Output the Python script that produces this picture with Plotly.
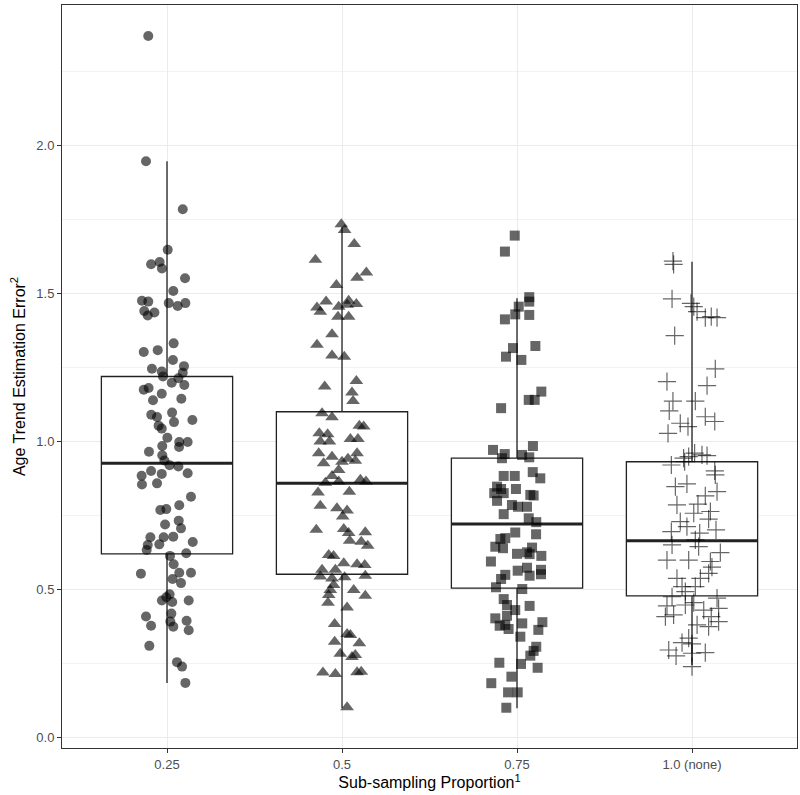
import plotly.graph_objects as go

# ---- categories / tick labels ----
categories = ["0.25", "0.5", "0.75", "1.0 (none)"]
cat_pos = [1, 2, 3, 4]

# ---- box statistics ----
box_q1 = [0.621, 0.552, 0.505, 0.479]
box_median = [0.927, 0.859, 0.722, 0.665]
box_q3 = [1.220, 1.101, 0.944, 0.932]
box_lower = [0.185, 0.100, 0.099, 0.245]
box_upper = [1.947, 1.725, 1.484, 1.608]

# ---- jittered points: (horizontal jitter in category units, value) ----
g1_jitter = [-0.107, -0.120, 0.090, 0.004, -0.091, -0.042, -0.029, 0.103,
             0.036, -0.143, -0.107, 0.010, 0.061, 0.105, -0.130, -0.072, -0.110,
             0.038, -0.133, -0.053, 0.034, -0.086, 0.097, -0.030, 0.090, -0.023,
             0.027, 0.065, 0.099, -0.133, -0.105, -0.030, -0.080, 0.082, -0.090,
             -0.057, 0.029, 0.145, 0.040, -0.048, -0.030, 0.002, -0.027, 0.070,
             0.118, 0.069, -0.103, -0.027, -0.015, 0.015, 0.065, -0.091, -0.030,
             0.118, -0.145, -0.143, -0.057, 0.137, 0.070, -0.038, -0.004, 0.067,
             -0.011, 0.080, -0.095, -0.019, 0.036, -0.110, -0.044, 0.147, -0.116,
             0.017, 0.110, 0.038, -0.149, 0.070, 0.137, 0.032, 0.080, 0.015,
             -0.004, -0.029, 0.030, 0.124, -0.120, 0.025, -0.091, 0.019, 0.036,
             0.112, 0.124, -0.101, 0.057, 0.086, 0.105]
g1_values = [2.370, 1.947, 1.785, 1.648, 1.599, 1.607, 1.585, 1.552,
             1.509, 1.476, 1.473, 1.468, 1.458, 1.468, 1.441, 1.436, 1.426,
             1.332, 1.303, 1.309, 1.276, 1.246, 1.255, 1.237, 1.233, 1.220,
             1.199, 1.214, 1.191, 1.175, 1.181, 1.162, 1.140, 1.145, 1.091,
             1.083, 1.098, 1.073, 1.066, 1.054, 1.044, 1.013, 0.985, 0.999,
             0.999, 0.982, 0.966, 0.954, 0.936, 0.920, 0.916, 0.901, 0.891,
             0.893, 0.885, 0.855, 0.859, 0.814, 0.785, 0.769, 0.772, 0.733,
             0.720, 0.707, 0.677, 0.677, 0.679, 0.651, 0.653, 0.661, 0.634,
             0.614, 0.623, 0.586, 0.554, 0.557, 0.557, 0.536, 0.522, 0.484,
             0.474, 0.463, 0.458, 0.463, 0.409, 0.419, 0.378, 0.392, 0.375,
             0.395, 0.363, 0.310, 0.255, 0.240, 0.185]

g2_jitter = [-0.004, 0.015, 0.070, -0.152, 0.139, 0.086, -0.032, -0.091, 0.038,
             0.082, -0.143, -0.124, -0.019, 0.030, -0.023, 0.038, -0.057, -0.143,
             -0.057, 0.013, -0.099, 0.082, 0.057, 0.063, -0.114, -0.057, 0.099,
             0.124, -0.130, -0.082, -0.124, -0.072, 0.048, 0.091, -0.133, -0.057,
             0.000, 0.034, 0.086, 0.076, -0.105, -0.019,
             -0.057, -0.095, -0.019, 0.105, 0.137, -0.137, 0.042, -0.124, -0.029,
             0.029, 0.004, -0.147, 0.010, 0.038, 0.133, 0.044, 0.110, 0.147,
             -0.076, -0.048, 0.010, 0.086, 0.130, -0.114, -0.038, -0.124, -0.057,
             0.015, 0.133, -0.048, -0.067, 0.067, -0.076, 0.133, -0.080, 0.029,
             -0.042, 0.029, 0.048, -0.042, 0.099, -0.010, 0.057, 0.076, -0.109,
             -0.038, 0.086, 0.110, 0.029]
g2_values = [1.734, 1.715, 1.668, 1.614, 1.571, 1.554, 1.529, 1.473, 1.476,
             1.465, 1.453, 1.439, 1.456, 1.462, 1.422, 1.422, 1.363, 1.327,
             1.291, 1.287, 1.186, 1.205, 1.166, 1.137, 1.096, 1.082, 1.054,
             1.051, 1.028, 1.025, 1.000, 1.000, 1.009, 1.009, 0.961, 0.949,
             0.932, 0.942, 0.961, 0.935, 0.927, 0.904,
             0.884, 0.861, 0.865, 0.871, 0.865, 0.828, 0.831, 0.783, 0.775,
             0.767, 0.747, 0.702, 0.705, 0.691, 0.694, 0.665, 0.662, 0.648,
             0.617, 0.614, 0.589, 0.586, 0.583, 0.567, 0.567, 0.544, 0.538,
             0.542, 0.547, 0.516, 0.499, 0.499, 0.482, 0.479, 0.456, 0.440,
             0.384, 0.350, 0.347, 0.324, 0.319, 0.283, 0.272, 0.279, 0.220,
             0.215, 0.221, 0.223, 0.103]

g3_jitter = [-0.013, -0.069, 0.070, 0.070, 0.010, -0.010, 0.070, -0.069, -0.023,
             0.105, -0.063, 0.025, 0.139, 0.067, 0.101, -0.091, 0.091, -0.137,
             -0.070, -0.086, 0.029, 0.070, -0.076, -0.013, 0.090, 0.133,
             -0.114, -0.091, -0.006, -0.130, -0.076, 0.076, 0.095, -0.114, -0.029,
             0.006, 0.057, -0.076, 0.067, 0.110, -0.010, 0.109, -0.095, -0.067,
             -0.124, -0.080, 0.086, 0.000, 0.057, 0.072, 0.139, -0.149, 0.057,
             0.004, 0.137, 0.072, 0.137, -0.067, -0.091, -0.120, 0.030, -0.076,
             -0.057, -0.010, 0.072, -0.057, -0.124, -0.099, -0.067, -0.048, 0.030,
             0.145, 0.122, 0.019, 0.110, 0.095, 0.076, -0.101, 0.023, 0.118,
             -0.032, -0.147, -0.051, 0.004, -0.061]
g3_values = [1.696, 1.642, 1.488, 1.473, 1.456, 1.430, 1.428, 1.413, 1.316,
             1.323, 1.287, 1.276, 1.169, 1.141, 1.141, 1.113, 0.985, 0.972,
             0.958, 0.944, 0.955, 0.947, 0.884, 0.884, 0.897, 0.876,
             0.848, 0.840, 0.840, 0.826, 0.826, 0.820, 0.818, 0.800, 0.786,
             0.780, 0.780, 0.755, 0.741, 0.728, 0.693, 0.687, 0.671, 0.674,
             0.645, 0.640, 0.642, 0.621, 0.626, 0.620, 0.614, 0.595, 0.574,
             0.564, 0.567, 0.547, 0.552, 0.550, 0.536, 0.508, 0.502, 0.468,
             0.448, 0.431, 0.445, 0.412, 0.403, 0.378, 0.381, 0.367, 0.386,
             0.390, 0.364, 0.341, 0.307, 0.293, 0.277, 0.253, 0.249, 0.236,
             0.206, 0.184, 0.153, 0.153, 0.101]

g4_jitter = [-0.109, -0.105, -0.114, -0.006, 0.010, 0.029, 0.076, 0.110, 0.143,
             -0.099, 0.133, -0.143, 0.086, -0.109, 0.019, -0.130, 0.076, 0.130,
             -0.067, -0.023, -0.137, 0.015, -0.019, 0.057, 0.086, -0.048, -0.118,
             -0.042, 0.130, 0.133,
             -0.095, -0.029, 0.143, 0.076, -0.086, 0.034, 0.105, 0.010, -0.067,
             0.095, -0.029, -0.118, 0.137, 0.044, 0.019, -0.114, 0.038, 0.162,
             -0.143, -0.019, 0.105, 0.114, -0.086, 0.095, 0.048, -0.057, 0.019,
             -0.038, -0.114, 0.143, 0.010, -0.143, -0.038, 0.067, 0.152, -0.105,
             0.110, -0.152, 0.029, 0.152, 0.095, -0.019, -0.057, 0.000, -0.133,
             0.076, -0.091, 0.000, 0.000]
g4_values = [1.610, 1.599, 1.482, 1.467, 1.456, 1.439, 1.419, 1.422, 1.419,
             1.358, 1.246, 1.203, 1.189, 1.137, 1.137, 1.104, 1.084, 1.068,
             1.062, 1.051, 1.028, 0.961, 0.949, 0.955, 0.953, 0.944, 0.921,
             0.932, 0.901, 0.888,
             0.848, 0.857, 0.831, 0.817, 0.786, 0.789, 0.764, 0.758, 0.730,
             0.738, 0.713, 0.696, 0.702, 0.691, 0.668, 0.651, 0.645, 0.625,
             0.600, 0.600, 0.595, 0.576, 0.538, 0.555, 0.538, 0.510, 0.510,
             0.493, 0.476, 0.471, 0.456, 0.445, 0.448, 0.431, 0.437, 0.415,
             0.409, 0.409, 0.381, 0.392, 0.375, 0.336, 0.321, 0.317, 0.296,
             0.287, 0.276, 0.285, 0.240]

y_tickvals = [0.0, 0.5, 1.0, 1.5, 2.0]
y_ticktext = ["0.0", "0.5", "1.0", "1.5", "2.0"]

groups_jitter = [g1_jitter, g2_jitter, g3_jitter, g4_jitter]
groups_values = [g1_values, g2_values, g3_values, g4_values]

BOX_WIDTH = 0.75
point_color = "rgba(0,0,0,0.6)"
symbols = ["circle", "triangle-up", "square", "cross-thin-open"]
sizes = [10, 12, 10, 13]

fig = go.Figure()

# boxes
for i, c in enumerate(cat_pos):
    fig.add_trace(go.Box(
        x=[c], q1=[box_q1[i]], median=[box_median[i]], q3=[box_q3[i]],
        lowerfence=[box_lower[i]], upperfence=[box_upper[i]],
        width=BOX_WIDTH, whiskerwidth=0, boxpoints=False,
        fillcolor="white", line=dict(color="#222222", width=1.3),
        showlegend=False, hoverinfo="skip",
    ))

# thick median lines (ggplot fattened median)
for i, c in enumerate(cat_pos):
    fig.add_trace(go.Scatter(
        x=[c - BOX_WIDTH / 2, c + BOX_WIDTH / 2],
        y=[box_median[i], box_median[i]],
        mode="lines", line=dict(color="#222222", width=3),
        showlegend=False, hoverinfo="skip",
    ))

# jittered points
for i, c in enumerate(cat_pos):
    xs = [c + j for j in groups_jitter[i]]
    ys = groups_values[i]
    if symbols[i] == "cross-thin-open":
        marker = dict(symbol=symbols[i], size=sizes[i], color=point_color,
                      line=dict(color=point_color, width=1.2))
    else:
        marker = dict(symbol=symbols[i], size=sizes[i], color=point_color,
                      line=dict(width=0))
    fig.add_trace(go.Scatter(x=xs, y=ys, mode="markers", marker=marker,
                             showlegend=False))

font_family = "Liberation Sans, Arial, sans-serif"

fig.update_layout(
    width=800, height=795,
    margin=dict(l=62, r=3, t=5, b=47, autoexpand=False),
    paper_bgcolor="white", plot_bgcolor="white",
    boxmode="overlay",
    font=dict(family=font_family, color="#000000"),
    xaxis=dict(
        range=[0.4, 4.6], tickvals=cat_pos, ticktext=categories,
        automargin=False,
        showgrid=True, gridcolor="#EBEBEB", gridwidth=1.2,
        zeroline=False, showline=True, mirror=True,
        linecolor="#333333", linewidth=1,
        ticks="outside", ticklen=4, tickcolor="#333333",
        tickfont=dict(size=13, color="#4D4D4D", family=font_family),
        title=dict(text="Sub-sampling Proportion<sup>1</sup>",
                   font=dict(size=16, color="#000000", family=font_family),
                   standoff=2),
    ),
    yaxis=dict(
        range=[-0.035, 2.475], tickvals=y_tickvals, ticktext=y_ticktext,
        automargin=False,
        showgrid=True, gridcolor="#EBEBEB", gridwidth=1.2,
        minor=dict(tickvals=[0.25, 0.75, 1.25, 1.75, 2.25], showgrid=True,
                   gridcolor="#F3F3F3", gridwidth=1, ticks=""),
        zeroline=False, showline=True, mirror=True,
        linecolor="#333333", linewidth=1,
        ticks="outside", ticklen=4, tickcolor="#333333",
        tickfont=dict(size=13, color="#4D4D4D", family=font_family),
        title=dict(text="Age Trend Estimation Error<sup>2</sup>",
                   font=dict(size=16, color="#000000", family=font_family),
                   standoff=6),
    ),
)

fig.write_html("out.html",
               config={"displayModeBar": False},
               post_script="document.body.style.margin='0';document.body.style.overflow='hidden';")
